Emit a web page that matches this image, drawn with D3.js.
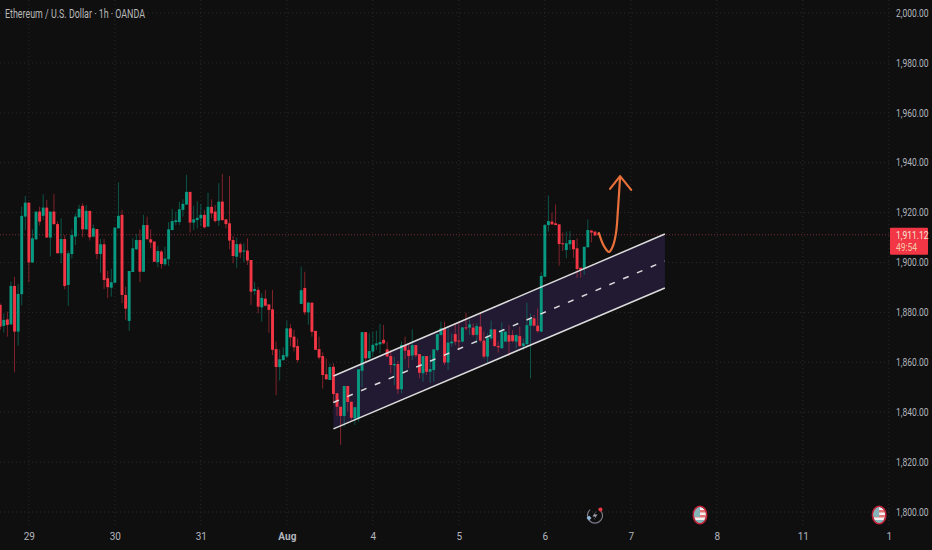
<!DOCTYPE html>
<html>
<head>
<meta charset="utf-8">
<script src="https://cdn.jsdelivr.net/npm/d3@7"></script>
<style>
  html, body { margin: 0; background: #0f0f0f; }
  svg { display: block; }
  text { font-family: "Roboto", sans-serif; }
  .grid line { stroke: #2a2a2a; stroke-dasharray: 1 3; }
  .tick-label text { fill: #b2b5be; font-size: 10px; }
</style>
</head>
<body>
<svg id="chart" width="932" height="550"></svg>
<script>
const opens = [
  1883.0,1874.6,1877.2,1875.2,1890.6,1872.3,1887.3,1918.4,1924.0,1900.0,
  1909.3,1920.4,1918.7,1922.0,1910.0,1920.4,1915.4,1903.7,1909.4,1891.0,
  1903.4,1910.4,1918.1,1922.7,1913.3,1920.7,1910.4,1913.4,1903.4,1907.3,
  1893.7,1889.9,1891.9,1913.7,1919.1,1887.0,1876.6,1896.2,1905.3,1909.0,
  1896.3,1915.0,1909.3,1908.4,1900.1,1904.4,1899.3,1901.3,1913.0,1916.2,
  1916.2,1921.1,1923.2,1928.3,1916.0,1917.0,1917.7,1919.1,1914.4,1922.3,
  1920.4,1916.8,1924.4,1917.3,1915.7,1909.0,1902.3,1907.3,1904.4,1904.8,
  1901.0,1888.6,1889.0,1882.0,1885.5,1883.2,1881.2,1865.3,1858.1,1860.9,
  1862.3,1873.6,1870.3,1866.5,1883.4,1889.8,1880.0,1883.9,1872.6,1865.3,
  1862.5,1855.2,1852.9,1858.2,1847.6,1842.2,1838.5,1850.5,1844.2,1837.5,
  1837.5,1856.6,1872.1,1861.6,1864.3,1866.8,1867.2,1869.0,1865.2,1862.5,
  1858.8,1859.3,1849.2,1866.9,1864.9,1862.7,1866.9,1863.3,1855.6,1862.5,
  1856.2,1856.9,1864.9,1870.9,1873.6,1859.9,1867.6,1871.3,1868.7,1868.3,
  1874.0,1873.9,1873.9,1871.0,1874.3,1868.7,1862.3,1869.6,1873.2,1866.5,
  1865.6,1868.3,1870.9,1870.9,1868.3,1870.5,1866.5,1867.3,1874.7,1877.6,
  1874.7,1872.3,1894.3,1915.0,1916.4,1915.7,1915.3,1907.7,1905.0,1907.3,
  1909.0,1905.7,1897.9,1897.7,1906.1,1912.8,1912.4,1911.7
];
const highs = [
  1883.6,1879.6,1880.3,1892.3,1894.3,1891.4,1922.4,1926.7,1924.0,1913.3,
  1920.4,1922.4,1927.3,1925.1,1920.4,1927.5,1916.4,1917.7,1911.0,1904.8,
  1913.3,1919.7,1923.1,1923.7,1923.1,1920.7,1915.3,1913.4,1909.4,1909.4,
  1896.7,1897.4,1914.0,1932.1,1921.1,1890.3,1896.6,1909.7,1911.4,1913.3,
  1919.1,1918.4,1913.3,1908.4,1906.6,1905.0,1906.4,1916.2,1921.5,1920.4,
  1924.4,1925.3,1935.1,1928.3,1922.7,1924.5,1923.5,1921.1,1928.0,1925.3,
  1923.1,1931.8,1935.5,1917.3,1934.7,1910.6,1910.0,1908.0,1907.7,1909.7,
  1901.0,1892.1,1890.1,1887.7,1889.0,1883.2,1889.0,1868.3,1865.2,1866.0,
  1876.7,1875.4,1873.0,1869.6,1898.4,1896.3,1884.3,1883.9,1872.6,1870.3,
  1864.0,1861.5,1859.6,1859.6,1847.6,1842.2,1850.5,1850.5,1844.2,1842.0,
  1857.2,1872.1,1872.1,1871.6,1872.3,1872.7,1875.4,1875.0,1868.3,1864.9,
  1862.0,1860.6,1868.3,1870.3,1867.2,1873.2,1866.9,1863.3,1862.5,1862.5,
  1862.9,1865.2,1871.3,1876.3,1876.3,1874.3,1871.6,1875.6,1876.3,1874.0,
  1879.9,1877.0,1875.6,1875.6,1879.9,1872.3,1871.6,1876.7,1873.2,1868.3,
  1876.0,1872.3,1874.9,1872.9,1871.2,1874.3,1869.6,1883.9,1879.6,1879.0,
  1881.6,1896.1,1915.3,1926.8,1920.1,1923.3,1915.3,1912.1,1912.4,1912.6,
  1909.0,1909.7,1897.9,1906.3,1917.3,1913.0,1912.4,1911.7
];
const lows = [
  1873.0,1871.9,1870.3,1875.0,1856.0,1866.7,1882.8,1913.0,1892.1,1900.0,
  1909.0,1914.8,1917.0,1910.0,1902.4,1915.0,1903.7,1899.7,1889.3,1882.6,
  1901.6,1907.0,1918.1,1910.1,1913.0,1908.8,1910.1,1901.3,1895.9,1889.4,
  1885.7,1886.3,1891.7,1913.7,1883.7,1877.0,1872.6,1896.2,1905.0,1892.1,
  1896.3,1909.3,1905.7,1900.3,1898.1,1897.6,1898.6,1898.6,1913.0,1915.0,
  1915.0,1918.4,1923.2,1912.0,1913.0,1913.7,1914.6,1913.6,1914.4,1917.7,
  1916.0,1914.6,1916.8,1913.7,1905.3,1899.7,1897.9,1901.7,1900.1,1899.0,
  1883.0,1887.0,1879.6,1876.3,1882.3,1871.9,1862.9,1846.8,1852.7,1860.5,
  1861.6,1866.5,1864.3,1859.9,1883.4,1879.0,1875.0,1870.3,1865.0,1861.2,
  1849.5,1852.9,1852.9,1843.6,1838.5,1826.9,1834.2,1840.2,1836.9,1834.9,
  1836.2,1850.0,1859.6,1861.2,1862.3,1864.9,1863.6,1867.2,1862.0,1855.6,
  1850.9,1847.3,1847.6,1861.2,1857.6,1860.9,1862.0,1853.6,1852.2,1854.9,
  1851.8,1852.2,1864.3,1870.9,1858.9,1856.9,1866.3,1866.9,1864.9,1867.9,
  1872.9,1871.0,1870.3,1867.6,1867.9,1861.6,1859.9,1868.9,1866.3,1863.9,
  1865.6,1868.3,1862.5,1867.9,1865.6,1866.3,1864.9,1866.0,1853.6,1874.3,
  1871.9,1872.3,1894.3,1912.4,1915.0,1915.0,1898.7,1904.6,1901.7,1905.0,
  1901.9,1893.9,1893.9,1895.0,1906.1,1908.1,1910.8,1911.0
];
const closes = [
  1874.3,1877.0,1875.0,1890.6,1872.3,1887.4,1918.7,1924.0,1900.0,1909.7,
  1920.4,1916.4,1922.0,1910.0,1920.4,1915.4,1903.7,1909.4,1890.6,1903.7,
  1911.0,1918.4,1921.5,1913.3,1920.7,1910.1,1913.7,1903.4,1907.3,1893.0,
  1890.1,1892.1,1914.0,1918.7,1887.0,1881.5,1896.6,1905.7,1909.0,1896.3,
  1915.0,1909.3,1908.0,1900.3,1904.6,1899.4,1901.6,1913.3,1916.6,1916.9,
  1921.3,1923.5,1928.3,1916.0,1917.3,1917.9,1919.1,1914.1,1922.3,1919.7,
  1916.6,1924.4,1917.0,1915.4,1908.8,1902.6,1907.4,1904.0,1904.8,1900.8,
  1888.3,1889.4,1882.3,1885.8,1882.7,1881.0,1865.0,1858.1,1861.2,1862.9,
  1873.6,1870.0,1866.0,1860.9,1888.9,1880.0,1883.9,1872.2,1865.0,1861.9,
  1854.9,1853.2,1858.1,1847.3,1842.2,1838.5,1850.5,1844.1,1837.8,1842.0,
  1857.2,1872.1,1861.6,1864.5,1867.0,1867.6,1868.1,1867.6,1862.3,1858.9,
  1859.3,1849.2,1866.9,1864.7,1862.5,1866.9,1862.8,1855.8,1862.5,1856.2,
  1857.3,1865.2,1871.3,1873.6,1859.9,1867.9,1868.3,1868.3,1868.3,1874.0,
  1873.6,1875.2,1871.0,1874.5,1868.7,1862.3,1869.9,1873.2,1866.5,1866.0,
  1872.3,1872.3,1868.3,1868.5,1870.9,1866.5,1867.6,1874.9,1877.6,1874.7,
  1872.5,1894.6,1915.0,1916.6,1915.3,1915.0,1907.4,1907.3,1907.7,1909.0,
  1905.3,1897.4,1897.0,1906.3,1913.0,1912.0,1910.8,1911.12
];

const dayLabels = ["29", "30", "31", "Aug", "4", "5", "6", "7", "8", "11", "1"];
const dayBars = [8, 32, 56, 80, 104, 128, 152, 176, 200, 224, 248];
const priceTicks = [1800, 1820, 1840, 1860, 1880, 1900, 1920, 1940, 1960, 1980, 2000];

// channel drawing, bar index and price
const channelBars = [93, 185.5];
const channelUpper = [1854.5, 1911.4];
const channelMiddle = [1843.9, 1900.6];
const channelLower = [1833.3, 1889.8];

// projected path
const arrowBars = [167.1, 168.5, 169.9, 171.0, 171.9, 172.4, 173.0];
const arrowPrices = [1911.8, 1906.6, 1904.2, 1906.6, 1912.2, 1921.0, 1934.3];
const arrowHeadBars = [170.2, 173.0, 176.1];
const arrowHeadPrices = [1929.5, 1934.6, 1929.1];

const eventBars = [195.3, 245.3];
const lastPrice = 1911.12;
const countdown = "49:54";
const title = "Ethereum / U.S. Dollar · 1h · OANDA";

const width = 932, height = 550;
const axisX = 890;
const up = "#089981", down = "#f23645";
const squeeze = 0.85; // the reference uses a narrower face than Roboto

const x = d3.scaleLinear().domain([0, 248]).range([0.2, 888.8]);
const y = d3.scaleLinear().domain([1800, 2000]).range([512, 13]);
const bars = d3.range(closes.length);
const bodyWidth = 2.9;
const color = (i) => (closes[i] >= opens[i] ? up : down);
const priceFormat = d3.format(",.2f");

const svg = d3.select("#chart");
svg.append("rect").attr("width", width).attr("height", height).attr("fill", "#0f0f0f");

// grid
const grid = svg.append("g").attr("class", "grid");
grid.selectAll(".v").data(dayBars).enter().append("line")
  .attr("x1", (d) => x(d)).attr("x2", (d) => x(d))
  .attr("y1", 0).attr("y2", 525);
grid.selectAll(".h").data(priceTicks).enter().append("line")
  .attr("x1", 0).attr("x2", axisX)
  .attr("y1", (d) => y(d)).attr("y2", (d) => y(d));

// channel fill goes under the candles
svg.append("path")
  .attr("d", d3.area()
    .x((d) => x(d))
    .y0((d, i) => y(channelLower[i]))
    .y1((d, i) => y(channelUpper[i]))(channelBars))
  .attr("fill", "#221a33");

// last price line
svg.append("line")
  .attr("x1", 0).attr("x2", axisX)
  .attr("y1", y(lastPrice)).attr("y2", y(lastPrice))
  .attr("stroke", "#7a2a33").attr("stroke-dasharray", "1 2");

// candles
svg.selectAll(".wick").data(bars).enter().append("line")
  .attr("x1", (i) => x(i)).attr("x2", (i) => x(i))
  .attr("y1", (i) => y(highs[i])).attr("y2", (i) => y(lows[i]))
  .attr("stroke", (i) => color(i))
  .attr("stroke-opacity", 0.5)
  .attr("stroke-width", 1);

svg.selectAll(".body").data(bars).enter().append("rect")
  .attr("x", (i) => x(i) - bodyWidth / 2)
  .attr("width", bodyWidth)
  .attr("y", (i) => y(Math.max(opens[i], closes[i])))
  .attr("height", (i) => Math.max(1, Math.abs(y(opens[i]) - y(closes[i]))))
  .attr("fill", color);

// channel lines
const channelLine = (prices) =>
  d3.line().x((d) => x(d)).y((d, i) => y(prices[i]))(channelBars);

[channelUpper, channelLower].forEach((prices) => {
  svg.append("path").attr("d", channelLine(prices))
    .attr("fill", "none").attr("stroke", "#dcdcdc").attr("stroke-width", 1.5);
});
svg.append("path").attr("d", channelLine(channelMiddle))
  .attr("fill", "none").attr("stroke", "#dcdcdc").attr("stroke-width", 1.5)
  .attr("stroke-dasharray", "6 9");

// orange projection
svg.append("path")
  .attr("d", d3.line().x((d) => x(d)).y((d, i) => y(arrowPrices[i]))
    .curve(d3.curveCatmullRom)(arrowBars))
  .attr("fill", "none").attr("stroke", "#e8703a").attr("stroke-width", 2.2)
  .attr("stroke-linecap", "round");
svg.append("path")
  .attr("d", d3.line().x((d) => x(d)).y((d, i) => y(arrowHeadPrices[i]))(arrowHeadBars))
  .attr("fill", "none").attr("stroke", "#e8703a").attr("stroke-width", 2.2)
  .attr("stroke-linecap", "round").attr("stroke-linejoin", "round");

// axes
const yAxis = svg.append("g").attr("class", "tick-label")
  .attr("transform", `translate(${axisX},0)`)
  .call(d3.axisRight(y).tickValues(priceTicks).tickSize(0).tickFormat(priceFormat));
yAxis.select(".domain").remove();
yAxis.selectAll("text")
  .attr("x", 6 / squeeze)
  .attr("transform", `scale(${squeeze},1)`);

const xAxis = svg.append("g").attr("class", "tick-label")
  .attr("transform", "translate(0,527)")
  .call(d3.axisBottom(x).tickValues(dayBars).tickSize(0).tickPadding(6)
    .tickFormat((d, i) => dayLabels[i]));
xAxis.select(".domain").remove();
xAxis.selectAll("text").filter((d, i) => dayLabels[i] === "Aug").attr("font-weight", "bold");

// title
svg.append("text")
  .attr("transform", "translate(5,18) scale(0.8,1)")
  .attr("fill", "#b8b8b8").attr("font-size", 12)
  .attr("textLength", 175).attr("lengthAdjust", "spacingAndGlyphs")
  .text(title);

// price label
const label = svg.append("g");
label.append("rect").attr("x", axisX).attr("y", y(lastPrice) - 7)
  .attr("width", 38).attr("height", 27).attr("rx", 1).attr("fill", down);
label.append("text")
  .attr("transform", `translate(${axisX + 6},${y(lastPrice) + 4}) scale(${squeeze},1)`)
  .attr("fill", "#f2e6d8").attr("font-size", 10)
  .text(priceFormat(lastPrice));
label.append("text")
  .attr("transform", `translate(${axisX + 6},${y(lastPrice) + 16}) scale(${squeeze},1)`)
  .attr("fill", "#f2c9a8").attr("font-size", 10).text(countdown);

// event markers along the bottom
const defs = svg.append("defs");
defs.append("clipPath").attr("id", "flag-clip").append("ellipse").attr("rx", 6).attr("ry", 8);
const flags = svg.selectAll(".flag").data(eventBars).enter().append("g")
  .attr("transform", (d) => `translate(${x(d)},515)`);
const flagInner = flags.append("g").attr("clip-path", "url(#flag-clip)");
flagInner.append("rect").attr("x", -7).attr("y", -9).attr("width", 14).attr("height", 18).attr("fill", "#f2f2f2");
flagInner.append("rect").attr("x", -7).attr("y", -5).attr("width", 14).attr("height", 2.5).attr("fill", "#e57373");
flagInner.append("rect").attr("x", -7).attr("y", 0).attr("width", 14).attr("height", 2.5).attr("fill", "#e57373");
flagInner.append("rect").attr("x", -7).attr("y", -9).attr("width", 7).attr("height", 11).attr("fill", "#86b3b8");
flagInner.append("rect").attr("x", -7).attr("y", 5).attr("width", 14).attr("height", 4).attr("fill", "#86b3b8");
flags.append("ellipse").attr("rx", 6.8).attr("ry", 8.8)
  .attr("fill", "none").attr("stroke", "#c8233a").attr("stroke-width", 1.4);

// lightning marker, open ring with a dot and a spark
const bolt = svg.append("g").attr("transform", `translate(${x(166)},515.5)`);
bolt.append("path")
  .attr("d", d3.arc().innerRadius(7).outerRadius(8.2).startAngle(0.5).endAngle(5.6)())
  .attr("fill", "#7e7888");
bolt.append("path").attr("d", "M1.5,-5 L-2.5,1 L0.5,1 L-1.5,5 L2.5,-1 L-0.5,-1 Z").attr("fill", "#a8a4b0");
bolt.append("circle").attr("cx", 5.5).attr("cy", -6).attr("r", 2).attr("fill", "#f23645");
bolt.append("path").attr("d", "M-6,0 L-3.5,2.5 L-6,5 L-8.5,2.5 Z").attr("fill", "#8fb8d8");
</script>
</body>
</html>
